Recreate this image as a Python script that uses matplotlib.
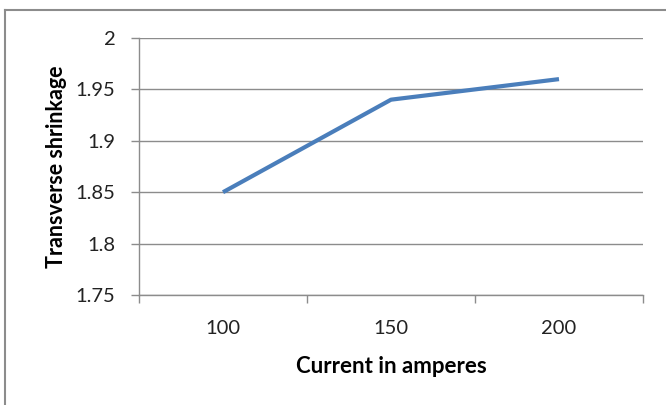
import matplotlib.pyplot as plt
from matplotlib.lines import Line2D

current = ['100', '150', '200']
shrinkage = [1.85, 1.94, 1.96]
yticks = [1.75, 1.8, 1.85, 1.9, 1.95, 2.0]
ylabels = ['1.75', '1.8', '1.85', '1.9', '1.95', '2']

plt.rcParams['font.family'] = ['Lato', 'DejaVu Sans']

fig = plt.figure(figsize=(6.66, 4.05), dpi=100)
ax = fig.add_axes([139/666, 1-295/405, 504/666, 257/405])

x = list(range(len(current)))
ax.plot(x, shrinkage, color='#4a7ebb', lw=3, solid_capstyle='butt')

ax.set_xlim(-0.5, len(current)-0.5)
ax.set_ylim(1.75, 2.0)
ax.set_yticks(yticks)
ax.set_yticklabels(ylabels)
ax.set_xticks(x)
ax.set_xticklabels(current)
ax.set_xticks([i-0.5 for i in range(len(current)+1)], minor=True)

ax.grid(axis='y', color='#8c8c8c', lw=1)
ax.set_axisbelow(True)
for s in ['top', 'right']:
    ax.spines[s].set_visible(False)
for s in ['left', 'bottom']:
    ax.spines[s].set_color('#8c8c8c')
    ax.spines[s].set_linewidth(1)

ax.tick_params(axis='y', length=6, width=1, color='#8c8c8c', pad=11,
               labelsize=14.5, labelcolor='#222222')
ax.tick_params(axis='x', which='major', length=0, pad=18,
               labelsize=14.5, labelcolor='#222222')
ax.tick_params(axis='x', which='minor', length=6, width=1, color='#8c8c8c')

ax.set_xlabel('Current in amperes', fontsize=16, fontweight='bold', labelpad=14)
ax.set_ylabel('Transverse shrinkage', fontsize=15.5, fontweight='bold', labelpad=6)

# chart frame (left and top edges visible)
fig.add_artist(Line2D([5/666, 5/666], [0, 1-10/405], transform=fig.transFigure,
                      color='#8c8c8c', lw=1.5))
fig.add_artist(Line2D([5/666, 1], [1-10/405, 1-10/405], transform=fig.transFigure,
                      color='#8c8c8c', lw=1.5))

fig.savefig('out.png', dpi=100)
